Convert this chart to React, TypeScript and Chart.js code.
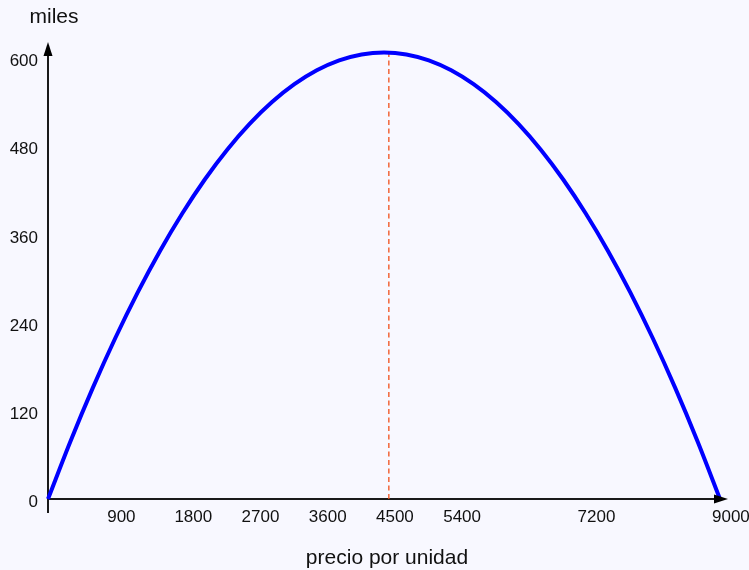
import { useEffect, useRef } from "react";
import { Chart, registerables } from "chart.js";

Chart.register(...registerables);

// Price per unit (x) and revenue in thousands (y)
const PRICES = [
  0, 300, 600, 900, 1200, 1500, 1800, 2100, 2400, 2700, 3000, 3300, 3600, 3900, 4200, 4500,
  4800, 5100, 5400, 5700, 6000, 6300, 6600, 6900, 7200, 7500, 7800, 8100, 8400, 8700, 9000,
];
const REVENUE = [
  0, 78.3, 151.2, 218.7, 280.8, 337.5, 388.8, 434.7, 475.2, 510.3, 540, 564.3, 583.2, 596.7, 604.8, 607.5,
  604.8, 596.7, 583.2, 564.3, 540, 510.3, 475.2, 434.7, 388.8, 337.5, 280.8, 218.7, 151.2, 78.3, 0,
];
const X_TICKS = [900, 1800, 2700, 3600, 4500, 5400, 7200, 9000];
const Y_TICKS = [0, 120, 240, 360, 480, 600];
const PEAK_LINE_X = [4565, 4565];
const PEAK_LINE_Y = [0, 607.5];
const X_TITLE = "precio por unidad";
const Y_TITLE = "miles";

const FONT = "'Liberation Sans', Arial, Helvetica, sans-serif";
const BG = "#f8f8ff";
const AXIS = "#1a1a1a";

const decor = {
  id: "decor",
  beforeDraw(chart: any) {
    const { ctx, width, height } = chart;
    ctx.save();
    ctx.fillStyle = BG;
    ctx.fillRect(0, 0, width, height);
    ctx.restore();
  },
  beforeDatasetsDraw(chart: any) {
    const { ctx } = chart;
    const xs = chart.scales.x;
    const ys = chart.scales.y;
    const x0 = xs.getPixelForValue(0);
    const y0 = ys.getPixelForValue(0);
    const xTip = xs.getPixelForValue(9000) + 8;
    const yTip = ys.getPixelForValue(600) - 16;
    ctx.save();
    ctx.strokeStyle = AXIS;
    ctx.lineWidth = 2;
    ctx.beginPath();
    ctx.moveTo(x0, y0 + 14);
    ctx.lineTo(x0, yTip + 6);
    ctx.moveTo(x0, y0);
    ctx.lineTo(xTip - 6, y0);
    ctx.stroke();
    ctx.restore();
  },
  afterDatasetsDraw(chart: any) {
    const { ctx } = chart;
    const xs = chart.scales.x;
    const ys = chart.scales.y;
    const x0 = xs.getPixelForValue(0);
    const y0 = ys.getPixelForValue(0);
    const xTip = xs.getPixelForValue(9000) + 8;
    const yTip = ys.getPixelForValue(600) - 16;
    ctx.save();
    ctx.fillStyle = "#000";
    ctx.beginPath();
    ctx.moveTo(x0, yTip);
    ctx.lineTo(x0 - 4.5, yTip + 14);
    ctx.lineTo(x0 + 4.5, yTip + 14);
    ctx.closePath();
    ctx.fill();
    ctx.beginPath();
    ctx.moveTo(xTip, y0);
    ctx.lineTo(xTip - 14, y0 - 4.5);
    ctx.lineTo(xTip - 14, y0 + 4.5);
    ctx.closePath();
    ctx.fill();
    ctx.restore();
  },
  afterDraw(chart: any) {
    const { ctx } = chart;
    ctx.save();
    ctx.fillStyle = "#111";
    ctx.font = `21px ${FONT}`;
    ctx.textAlign = "center";
    ctx.textBaseline = "alphabetic";
    ctx.fillText(Y_TITLE, 54, 23);
    ctx.fillText(X_TITLE, 387, 564);
    ctx.restore();
  },
};

export default function App() {
  const ref = useRef<HTMLCanvasElement>(null);

  useEffect(() => {
    if (!ref.current) return;
    const curve = PRICES.map((x, i) => ({ x, y: REVENUE[i] }));
    const peak = PEAK_LINE_X.map((x, i) => ({ x, y: PEAK_LINE_Y[i] }));
    const chart = new Chart(ref.current, {
      type: "scatter",
      data: {
        datasets: [
          {
            data: curve,
            showLine: true,
            borderColor: "#0000ff",
            borderWidth: 4,
            pointRadius: 0,
            cubicInterpolationMode: "monotone",
            clip: false,
          } as any,
          {
            data: peak,
            showLine: true,
            borderColor: "#f04e1a",
            borderWidth: 1.3,
            borderDash: [5, 3.5],
            pointRadius: 0,
            clip: false,
          } as any,
        ],
      },
      options: {
        responsive: false,
        animation: false,
        devicePixelRatio: 1,
        layout: { padding: { left: 0, right: 29, top: 58, bottom: 0 } },
        plugins: { legend: { display: false }, tooltip: { enabled: false } },
        scales: {
          x: {
            type: "linear",
            min: 0,
            max: 9000,
            border: { display: false },
            grid: { display: false, drawTicks: false },
            afterBuildTicks: (s: any) => {
              s.ticks = X_TICKS.map((v) => ({ value: v }));
            },
            afterFit: (s: any) => {
              s.height = 71;
              s.paddingLeft = 0;
              s.paddingRight = 0;
            },
            ticks: {
              autoSkip: false,
              maxRotation: 0,
              align: "start",
              labelOffset: -8,
              padding: 8,
              color: "#111",
              font: { family: FONT, size: 17 },
              callback: (v: any) => String(v),
            },
          },
          y: {
            type: "linear",
            min: 0,
            max: 600,
            border: { display: false },
            grid: { display: false, drawTicks: false },
            afterBuildTicks: (s: any) => {
              s.ticks = Y_TICKS.map((v) => ({ value: v }));
            },
            afterFit: (s: any) => {
              s.width = 48;
              s.paddingTop = 0;
              s.paddingBottom = 0;
            },
            ticks: {
              padding: 10,
              labelOffset: 3.5,
              color: "#111",
              font: { family: FONT, size: 17 },
              callback: (v: any) => String(v),
            },
          },
        },
      },
      plugins: [decor],
    });
    return () => chart.destroy();
  }, []);

  return (
    <div style={{ position: "absolute", left: 0, top: 0, width: 749, height: 570, background: BG }}>
      <canvas ref={ref} width={749} height={570} style={{ display: "block" }} />
    </div>
  );
}
